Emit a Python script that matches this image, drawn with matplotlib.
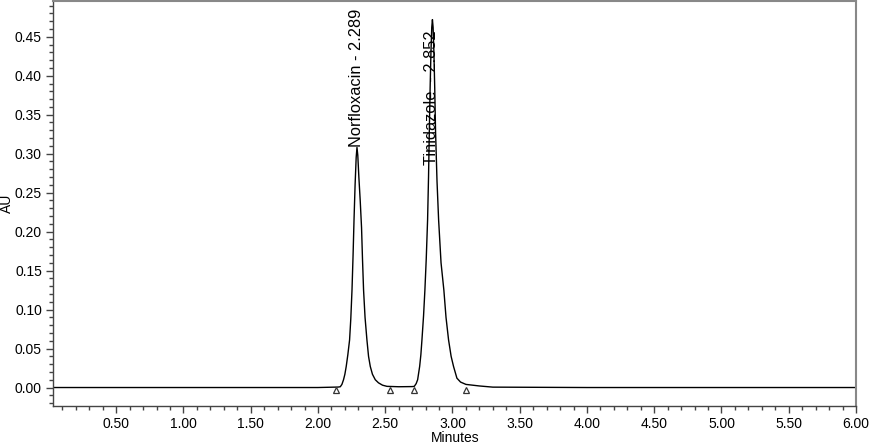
import matplotlib.pyplot as plt
import numpy as np

plt.rcParams['font.family'] = ['Liberation Sans', 'DejaVu Sans']

# chromatogram trace (minutes, AU)
tiempo = [0.00, 1.00, 2.00, 2.10, 2.150, 2.166, 2.178, 2.190, 2.200, 2.210, 2.222,
          2.235, 2.244, 2.253, 2.261, 2.268, 2.276, 2.284, 2.290, 2.296, 2.304,
          2.314, 2.324, 2.331, 2.339, 2.350, 2.364, 2.376, 2.389, 2.405, 2.426,
          2.450, 2.480, 2.513, 2.600, 2.700, 2.716, 2.730, 2.741, 2.756, 2.765,
          2.773, 2.785, 2.795, 2.805, 2.815, 2.822, 2.828, 2.834, 2.840, 2.846,
          2.851, 2.856, 2.862, 2.868, 2.874, 2.885, 2.897, 2.915, 2.936, 2.952,
          2.971, 2.990, 3.008, 3.033, 3.060, 3.100, 3.150, 3.200, 3.300, 4.000,
          5.000, 6.000]
absorb = [0.000, 0.000, 0.000, 0.0004, 0.0006, 0.001, 0.004, 0.010, 0.017, 0.027, 0.042,
          0.061, 0.088, 0.125, 0.170, 0.215, 0.260, 0.295, 0.308, 0.298, 0.270,
          0.240, 0.205, 0.165, 0.125, 0.090, 0.061, 0.040, 0.027, 0.017, 0.010,
          0.006, 0.003, 0.0015, 0.001, 0.0012, 0.0015, 0.005, 0.010, 0.027, 0.042,
          0.061, 0.092, 0.125, 0.165, 0.215, 0.270, 0.330, 0.385, 0.430, 0.462,
          0.472, 0.462, 0.430, 0.385, 0.330, 0.265, 0.215, 0.160, 0.125, 0.090,
          0.061, 0.040, 0.027, 0.012, 0.007, 0.004, 0.003, 0.002, 0.0005, 0.000,
          0.000, 0.000]

# integration marks
marcas_x = [2.134, 2.532, 2.716, 3.100]
marcas_y = [-0.003, -0.003, -0.003, -0.003]

picos = ['Norfloxacin - 2.289', 'Tinidazole  - 2.852']
picos_x = [2.290, 2.845]
picos_y = [0.308, 0.285]

fig = plt.figure(figsize=(8.69, 4.45), dpi=100)
ax = fig.add_axes([0.061, 0.088, 0.924, 0.910])

ax.plot(tiempo, absorb, color='black', linewidth=1.0)
ax.plot(marcas_x, marcas_y, '^', markersize=5, markerfacecolor='white',
        markeredgecolor='#333333', markeredgewidth=0.9, linestyle='none')

for txt, px, py in zip(picos, picos_x, picos_y):
    ax.text(px, py, txt, rotation=90, ha='center', va='bottom', fontsize=11.8)

ax.set_xlim(0.03, 6.0)
ax.set_ylim(-0.0235, 0.496)
ax.set_xticks(np.arange(0.5, 6.01, 0.5))
ax.set_xticks(np.arange(0.1, 6.01, 0.1), minor=True)
ax.set_yticks(np.arange(0.0, 0.451, 0.05))
ax.set_yticks(np.arange(-0.02, 0.491, 0.01), minor=True)
ax.xaxis.set_major_formatter(plt.FormatStrFormatter('%.2f'))
ax.yaxis.set_major_formatter(plt.FormatStrFormatter('%.2f'))
ax.tick_params(which='major', length=5, width=1, color='#444444', labelsize=10, pad=3)
ax.tick_params(which='minor', length=3, width=1, color='#444444')

for s in ['left', 'bottom']:
    ax.spines[s].set_color('#444444')
    ax.spines[s].set_linewidth(1.0)
for s in ['top', 'right']:
    ax.spines[s].set_color('#888888')
    ax.spines[s].set_linewidth(1.5)

# axis titles placed like the instrument software does
fig.text(455 / 869, 1 - 438 / 445, 'Minutes', ha='center', va='center', fontsize=10)
fig.text(7 / 869, 1 - 203 / 445, 'AU', ha='center', va='center', fontsize=10, rotation=90)

fig.savefig('out.png', dpi=100)
